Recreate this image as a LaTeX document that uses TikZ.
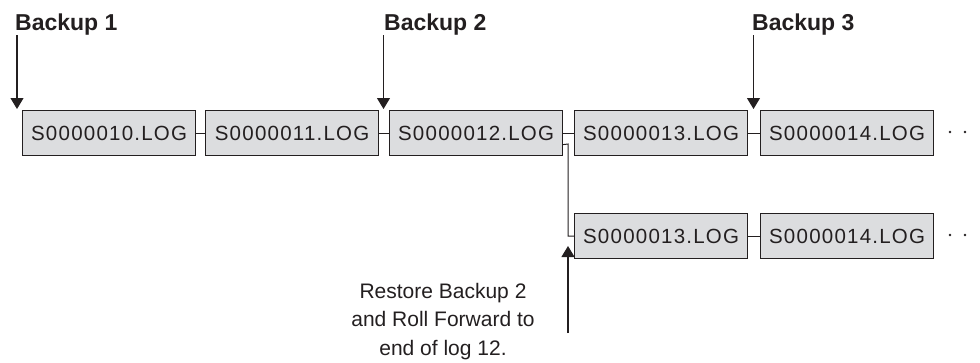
\documentclass[tikz,border=0pt]{standalone}
\usepackage{fontspec}
\setmainfont{Liberation Sans}
\newfontfamily\boxfont[LetterSpace=6]{Liberation Sans}
\usetikzlibrary{arrows.meta}
\definecolor{boxfill}{HTML}{DCDDDF}
\definecolor{ink}{HTML}{231F20}
\tikzset{
  logbox/.style={draw=ink, line width=1.2pt, fill=boxfill, minimum width=173pt, minimum height=45pt,
    inner sep=0pt, anchor=north west, font=\boxfont\fontsize{20.5}{24}\selectfont, text=ink},
  link/.style={draw=ink, line width=1pt},
  marker/.style={draw=ink, line width=1.1pt, -{Triangle[width=13pt,length=11pt]}},
  blabel/.style={anchor=base west, font=\bfseries\fontsize{23}{27}\selectfont, text=ink, inner sep=0pt},
  note/.style={align=center, font=\fontsize{21}{28.5}\selectfont, text=ink, inner sep=0pt},
  dot/.style={fill=ink, draw=none}
}
\begin{document}
\begin{tikzpicture}[x=1pt,y=-1pt]
\useasboundingbox (0,0) rectangle (980,362);
% top row
\node[logbox] (a) at (22,110) {S0000010.LOG};
\node[logbox] (b) at (205,110) {S0000011.LOG};
\node[logbox] (c) at (389,110) {S0000012.LOG};
\node[logbox] (d) at (574,110) {S0000013.LOG};
\node[logbox] (e) at (760,110) {S0000014.LOG};
% bottom row
\node[logbox] (f) at (574,213) {S0000013.LOG};
\node[logbox] (g) at (760,213) {S0000014.LOG};
% connectors
\draw[link] (a.east) -- (b.west);
\draw[link] (b.east) -- (c.west);
\draw[link] (c.east) -- (d.west);
\draw[link] (d.east) -- (e.west);
\draw[link] (f.east) -- (g.west);
\coordinate (cb) at ([yshift=-11.5pt]c.east);
\draw[link] (cb) -- (568,144) |- (f.west);
% dots
\fill[dot] (950,132) circle (1.4pt);
\fill[dot] (965,132) circle (1.4pt);
\fill[dot] (950,235) circle (1.4pt);
\fill[dot] (965,235) circle (1.4pt);
% backup markers
\coordinate (m1) at (17,35);
\coordinate (m1t) at (17,109);
\coordinate (m2) at (383.5,35);
\coordinate (m2t) at (383.5,109);
\coordinate (m3) at (753.5,35);
\coordinate (m3t) at (753.5,109);
\draw[marker] (m1) -- (m1t);
\draw[marker] (m2) -- (m2t);
\draw[marker] (m3) -- (m3t);
\node[blabel] (l1) at (15,30) {Backup 1};
\node[blabel] (l2) at (384,30) {Backup 2};
\node[blabel] (l3) at (752,30) {Backup 3};
% restore marker
\coordinate (r0) at (568,333);
\coordinate (r1) at (568,246);
\draw[marker] (r0) -- (r1);
\node[note, anchor=base] (n) at (443,355) {Restore Backup 2\\and Roll Forward to\\end of log 12.};
\end{tikzpicture}
\end{document}
